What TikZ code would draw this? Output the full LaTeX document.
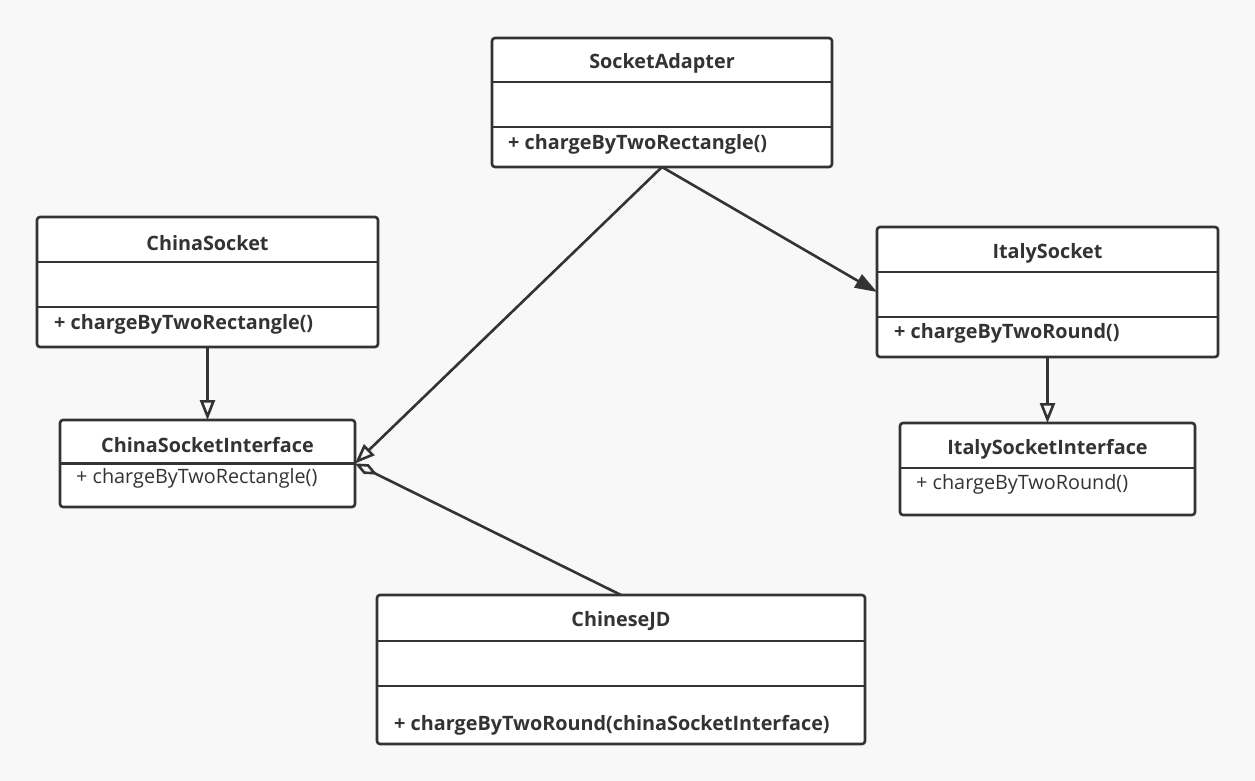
\documentclass[tikz,border=0pt]{standalone}
\usepackage{fontspec}
\setmainfont{Open Sans}
\usetikzlibrary{arrows.meta}
\definecolor{ink}{HTML}{333333}
\definecolor{bg}{HTML}{F8F8F8}
\begin{document}
\begin{tikzpicture}[x=1pt,y=-1pt,
  cls/.style={draw=ink, line width=2.6pt, fill=white, rounded corners=3pt, inner sep=0pt, outer sep=0pt},
  div/.style={draw=ink, line width=2.6pt},
  ttl/.style={font=\bfseries\fontsize{19.8}{22}\selectfont, text=ink, inner sep=0pt, yshift=-2pt},
  mth/.style={font=\bfseries\fontsize{19.8}{22}\selectfont, text=ink, inner sep=0pt, anchor=west, yshift=-2pt},
  mthn/.style={font=\fontsize{19.8}{22}\selectfont, text=ink, inner sep=0pt, anchor=west, yshift=-2pt},
  conn/.style={draw=ink, line width=2.6pt},
  realize/.style={conn, -{Triangle[open, length=20pt, width=15pt, line width=2.6pt]}},
  assoc/.style={conn, -{Triangle[length=22pt, width=15pt]}},
  aggr/.style={conn, {Diamond[open, length=25pt, width=11pt, line width=2.6pt]}-}
]
\fill[bg] (0,0) rectangle (1255,781);
\useasboundingbox (0,0) rectangle (1255,781);

% SocketAdapter
\node[cls, minimum width=340pt, minimum height=129pt] (sa) at (662,102.5) {};
\draw[div] (492,82) -- (832,82);
\draw[div] (492,127) -- (832,127);
\node[ttl] (saT) at (662,61) {SocketAdapter};
\node[mth] (saM) at (508,142) {+ chargeByTwoRectangle()};

% ChinaSocket
\node[cls, minimum width=341pt, minimum height=130pt] (cs) at (207.5,282) {};
\draw[div] (37,262) -- (378,262);
\draw[div] (37,307) -- (378,307);
\node[ttl] (csT) at (207.5,241) {ChinaSocket};
\node[mth] (csM) at (54,322) {+ chargeByTwoRectangle()};

% ChinaSocketInterface
\node[cls, minimum width=295pt, minimum height=87pt] (csi) at (207.5,463.5) {};
\draw[div] (60,463.5) -- (355,463.5);
\node[ttl] (csiT) at (207.5,443) {ChinaSocketInterface};
\node[mthn] (csiM) at (76,476) {+ chargeByTwoRectangle()};

% ItalySocket
\node[cls, minimum width=341pt, minimum height=130pt] (is) at (1047.5,292) {};
\draw[div] (877,272) -- (1218,272);
\draw[div] (877,317) -- (1218,317);
\node[ttl] (isT) at (1047.5,251) {ItalySocket};
\node[mth] (isM) at (894,331) {+ chargeByTwoRound()};

% ItalySocketInterface
\node[cls, minimum width=295pt, minimum height=92pt] (isi) at (1047.5,469) {};
\draw[div] (900,468) -- (1195,468);
\node[ttl] (isiT) at (1047.5,447) {ItalySocketInterface};
\node[mthn] (isiM) at (916,482) {+ chargeByTwoRound()};

% ChineseJD
\node[cls, minimum width=488pt, minimum height=149pt] (jd) at (621,669.5) {};
\draw[div] (377,641) -- (865,641);
\draw[div] (377,686) -- (865,686);
\node[ttl] (jdT) at (621,619) {ChineseJD};
\node[mth] (jdM) at (394,723) {+ chargeByTwoRound(chinaSocketInterface)};

% connectors
\draw[realize] (cs.south) -- (csi.north);
\draw[realize] (is.south) -- (isi.north);
\draw[realize] (sa.south) -- (csi.east);
\draw[assoc] (sa.south) -- (is.west);
\draw[aggr] (csi.east) -- (jd.north);
\end{tikzpicture}
\end{document}
